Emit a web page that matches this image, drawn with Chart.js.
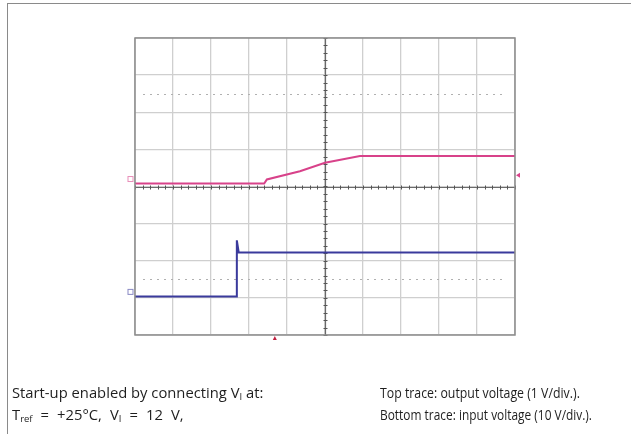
<!DOCTYPE html>
<html>
<head>
<meta charset="utf-8">
<script src="https://cdn.jsdelivr.net/npm/chart.js@4/dist/chart.umd.min.js"></script>
<style>
  body { margin: 0; background: #fff; }
  #wrap { position: relative; width: 631px; height: 434px; overflow: hidden; }
  #scope { position: absolute; left: 0; top: 0; }
  .frame-top { position: absolute; left: 7px; top: 3px; width: 624px; height: 1px; border-top: 1.5px solid #8a8a8a; }
  .frame-left { position: absolute; left: 7px; top: 3px; width: 1px; height: 431px; border-left: 1.5px solid #8a8a8a; }
  .cap { position: absolute; font-family: "Open Sans", "Noto Sans", sans-serif; font-size: 14px; color: #1e1e1e; white-space: nowrap; transform-origin: 0 50%; }
  .cap sub { font-size: 9px; vertical-align: -2px; }
</style>
</head>
<body>
<div id="wrap">
  <canvas id="scope" width="631" height="434"></canvas>
  <div class="frame-top"></div>
  <div class="frame-left"></div>
  <div class="cap" style="left:12px; top:383px; transform: scaleX(1.055);">Start-up enabled by connecting V<sub>I</sub> at:</div>
  <div class="cap" style="left:12px; top:405px; transform: scaleX(1.055); word-spacing: 4px;">T<sub>ref</sub> = +25°C, V<sub>I</sub> = 12 V,</div>
  <div class="cap" style="left:380px; top:383px; transform: scaleX(0.88);">Top trace: output voltage (1 V/div.).</div>
  <div class="cap" style="left:380px; top:405px; transform: scaleX(0.85);">Bottom trace: input voltage (10 V/div.).</div>
</div>
<script>
// time in divisions (10 div across), level in divisions (8 div high)
const outTime = [-5, -1.6, -1.53, -0.66, 0, 0.92, 5];
const outLevel = [0.08, 0.08, 0.19, 0.41, 0.64, 0.82, 0.82];

const inTime = [-5, -2.32, -2.32, -2.27, 5];
const inLevel = [-2.96, -2.96, -1.45, -1.78, -1.78];

const refLevels = [2.5, -2.5];
const xTicks = [-5, -4, -3, -2, -1, 0, 1, 2, 3, 4, 5];
const yTicks = [-4, -3, -2, -1, 0, 1, 2, 3, 4];

const pink = "#d8428a";
const blue = "#3a3a9c";

function pts(xs, ys) {
    return xs.map((x, i) => ({ x: x, y: ys[i] }));
}

const scopePlugin = {
    id: "scope",
    beforeDatasetsDraw(chart) {
        const c = chart.ctx;
        const xs = chart.scales.x, ys = chart.scales.y;
        const a = chart.chartArea;
        c.save();
        // dotted reference lines
        c.strokeStyle = "#b0b0b0";
        c.lineWidth = 1;
        c.setLineDash([2, 5]);
        refLevels.forEach(v => {
            const py = Math.round(ys.getPixelForValue(v)) + 0.5;
            c.beginPath();
            c.moveTo(a.left + 8, py);
            c.lineTo(a.right - 8, py);
            c.stroke();
        });
        c.setLineDash([]);
        // centre crosshair with minor ticks
        const cx = Math.round(xs.getPixelForValue(0)) + 0.5;
        const cy = Math.round(ys.getPixelForValue(0)) + 0.5;
        c.strokeStyle = "#6a6a6a";
        c.lineWidth = 1.2;
        c.beginPath();
        c.moveTo(a.left, cy); c.lineTo(a.right, cy);
        c.moveTo(cx, a.top); c.lineTo(cx, a.bottom);
        c.stroke();
        c.strokeStyle = "#555";
        c.lineWidth = 1;
        c.beginPath();
        for (let t = -5; t <= 5.001; t += 0.2) {
            const px = Math.round(xs.getPixelForValue(t)) + 0.5;
            c.moveTo(px, cy - 2); c.lineTo(px, cy + 2);
        }
        for (let t = -4; t <= 4.001; t += 0.2) {
            const py = Math.round(ys.getPixelForValue(t)) + 0.5;
            c.moveTo(cx - 2, py); c.lineTo(cx + 2, py);
        }
        c.stroke();
        c.restore();
    },
    afterDatasetsDraw(chart) {
        const c = chart.ctx;
        const xs = chart.scales.x, ys = chart.scales.y;
        const a = chart.chartArea;
        c.save();
        // outer graticule frame
        c.strokeStyle = "#8c8c8c";
        c.lineWidth = 1.5;
        c.strokeRect(a.left, a.top, a.right - a.left, a.bottom - a.top);
        // channel markers
        const mk = (y, col) => {
            const py = ys.getPixelForValue(y);
            c.strokeStyle = col;
            c.globalAlpha = 0.6;
            c.lineWidth = 1;
            c.strokeRect(a.left - 7, py - 7, 5, 5);
            c.globalAlpha = 1;
        };
        mk(outLevel[0], pink);
        mk(inLevel[0], blue);
        // trigger level marker (right)
        const ty = ys.getPixelForValue(0.3);
        c.fillStyle = pink;
        c.beginPath();
        c.moveTo(a.right + 1, ty); c.lineTo(a.right + 5, ty - 2.5); c.lineTo(a.right + 5, ty + 2.5);
        c.closePath(); c.fill();
        // trigger position marker (bottom)
        const tx = xs.getPixelForValue(-1.32);
        c.fillStyle = "#c02040";
        c.beginPath();
        c.moveTo(tx, a.bottom + 1); c.lineTo(tx - 2, a.bottom + 5); c.lineTo(tx + 2, a.bottom + 5);
        c.closePath(); c.fill();
        c.restore();
    }
};

const config = {
    type: "line",
    data: {
        datasets: [{
            label: "Output voltage",
            data: pts(outTime, outLevel),
            borderColor: pink,
            borderWidth: 2,
            pointRadius: 0,
            tension: 0
        }, {
            label: "Input voltage",
            data: pts(inTime, inLevel),
            borderColor: blue,
            borderWidth: 2,
            pointRadius: 0,
            tension: 0
        }]
    },
    options: {
        responsive: false,
        animation: false,
        devicePixelRatio: 1,
        layout: {
            padding: { left: 135, top: 38, right: 116, bottom: 99 }
        },
        plugins: {
            legend: { display: false },
            tooltip: { enabled: false }
        },
        scales: {
            x: {
                type: "linear",
                min: -5,
                max: 5,
                afterBuildTicks: s => { s.ticks = xTicks.map(v => ({ value: v })); },
                ticks: { display: false },
                grid: { color: "#cfcfcf", lineWidth: 1.3, drawTicks: false },
                border: { display: false }
            },
            y: {
                type: "linear",
                min: -4,
                max: 4,
                afterBuildTicks: s => { s.ticks = yTicks.map(v => ({ value: v })); },
                ticks: { display: false },
                grid: { color: "#cfcfcf", lineWidth: 1.3, drawTicks: false },
                border: { display: false }
            }
        }
    },
    plugins: [scopePlugin]
};

const scopeChart = new Chart(document.getElementById("scope").getContext("2d"), config);
</script>
</body>
</html>
